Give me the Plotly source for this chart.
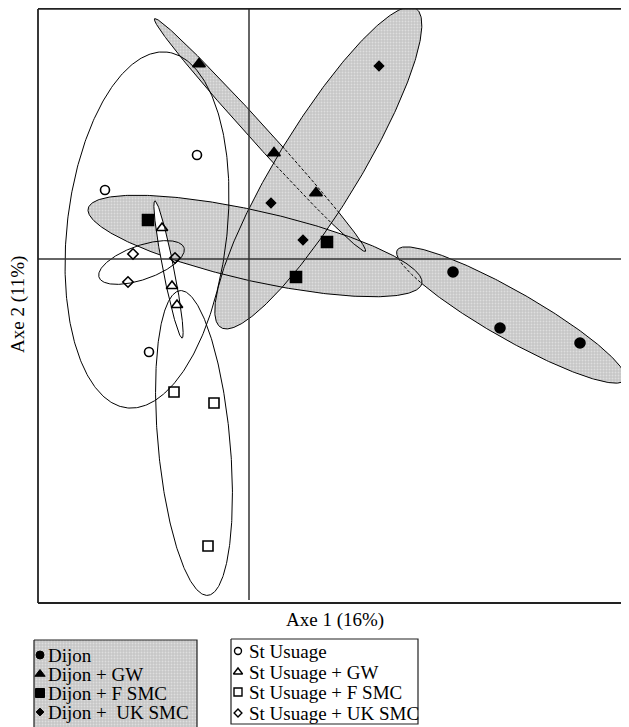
import numpy as np
import plotly.graph_objects as go

# ---------------- data (factorial map coordinates) ----------------
dijon_x = [2.04, 2.51, 3.31]
dijon_y = [-0.13, -0.69, -0.84]
dijon_gw_x = [-0.50, 0.25, 0.67]
dijon_gw_y = [1.95, 1.06, 0.66]
dijon_fsmc_x = [-1.01, 0.78, 0.47]
dijon_fsmc_y = [0.39, 0.17, -0.18]
dijon_uksmc_x = [1.30, 0.22, 0.54]
dijon_uksmc_y = [1.93, 0.56, 0.19]

stu_x = [-0.52, -1.44, -1.00]
stu_y = [1.04, 0.69, -0.93]
stu_gw_x = [-0.87, -0.77, -0.72]
stu_gw_y = [0.31, -0.27, -0.46]
stu_fsmc_x = [-0.75, -0.35, -0.41]
stu_fsmc_y = [-1.33, -1.44, -2.87]
stu_uksmc_x = [-1.16, -0.74, -1.21]
stu_uksmc_y = [0.05, 0.01, -0.23]

# confidence ellipses: centre x, centre y, semi-axis a, semi-axis b, angle (deg)
ell_dijon = [2.62, -0.56, 1.31, 0.24, -29.7]
ell_dijon_gw = [0.11, 1.24, 1.57, 0.09, -47.8]
ell_dijon_fsmc = [0.06, 0.13, 1.71, 0.35, -12.7]
ell_dijon_uksmc = [0.693, 0.911, 1.87, 0.41, 58.6]
ell_stu = [-1.02, 0.29, 1.79, 0.80, 83.6]
ell_stu_gw = [-0.805, -0.105, 0.70, 0.055, 101.2]
ell_stu_fsmc = [-0.55, -1.84, 1.53, 0.36, 95.2]
ell_stu_uksmc = [-1.075, -0.035, 0.45, 0.17, 19.3]

axis_x_title = "Axe 1 (16%)"
axis_y_title = "Axe 2 (11%)"
legend_dijon = ["Dijon", "Dijon + GW", "Dijon + F SMC", "Dijon +\u00a0 UK SMC"]
legend_stu = ["St Usuage", "St Usuage + GW", "St Usuage + F SMC", "St Usuage + UK SMC"]

# ---------------- helpers ----------------
OFF = 8                      # page body margin
W, H = 629 - OFF, 727 - OFF  # figure size
FONT = "Liberation Serif, Times New Roman, serif"
FS = 19
GRAY_PATTERN = dict(shape=".", bgcolor="#c6c6c6", fgcolor="#f6f6f6", size=3, solidity=0.3)


def ellipse(p, n=400):
    cx, cy, a, b, ang = p
    th = np.deg2rad(ang)
    t = np.linspace(0, 2 * np.pi, n)
    x = cx + a * np.cos(t) * np.cos(th) - b * np.sin(t) * np.sin(th)
    y = cy + a * np.cos(t) * np.sin(th) + b * np.sin(t) * np.cos(th)
    return x, y


def inside(p, x, y):
    cx, cy, a, b, ang = p
    th = np.deg2rad(ang)
    dx, dy = x - cx, y - cy
    u = dx * np.cos(th) + dy * np.sin(th)
    v = -dx * np.sin(th) + dy * np.cos(th)
    return (u / a) ** 2 + (v / b) ** 2 < 1


def split(x, y, mask):
    sx, sy, dx_, dy_ = [], [], [], []
    for i in range(len(x)):
        m = mask[i]
        prev = mask[i - 1] if i > 0 else m
        if m:
            if not prev:
                dx_ += [None]; dy_ += [None]
                dx_.append(x[i - 1]); dy_.append(y[i - 1])
            dx_.append(x[i]); dy_.append(y[i])
            sx.append(None); sy.append(None)
        else:
            if prev and i > 0:
                sx.append(x[i - 1]); sy.append(y[i - 1])
            sx.append(x[i]); sy.append(y[i])
    return sx, sy, dx_, dy_


fig = go.Figure()

gray_ells = [ell_dijon_uksmc, ell_dijon_fsmc, ell_dijon_gw, ell_dijon]
for p in gray_ells:
    x, y = ellipse(p)
    fig.add_trace(go.Scatter(x=x, y=y, mode="lines", fill="toself",
                             fillcolor="#d2d2d2", fillpattern=GRAY_PATTERN,
                             line=dict(width=0, color="rgba(0,0,0,0)"),
                             hoverinfo="skip", showlegend=False))
dash_rules = {id(ell_dijon_gw): ell_dijon_uksmc, id(ell_dijon): ell_dijon_fsmc}
for p in gray_ells:
    x, y = ellipse(p)
    other = dash_rules.get(id(p))
    if other is None:
        fig.add_trace(go.Scatter(x=x, y=y, mode="lines", line=dict(width=1, color="black"),
                                 hoverinfo="skip", showlegend=False))
    else:
        m = inside(other, x, y)
        sx, sy, ddx, ddy = split(list(x), list(y), list(m))
        fig.add_trace(go.Scatter(x=sx, y=sy, mode="lines", line=dict(width=1, color="black"),
                                 hoverinfo="skip", showlegend=False))
        fig.add_trace(go.Scatter(x=ddx, y=ddy, mode="lines",
                                 line=dict(width=1, color="black", dash="3px,2px"),
                                 hoverinfo="skip", showlegend=False))

for p, filled in [(ell_stu, False), (ell_stu_gw, True), (ell_stu_fsmc, False), (ell_stu_uksmc, False)]:
    x, y = ellipse(p)
    fig.add_trace(go.Scatter(x=x, y=y, mode="lines", line=dict(width=1, color="black"),
                             fill="toself" if filled else None,
                             fillcolor="white" if filled else None,
                             hoverinfo="skip", showlegend=False))

XR = [-2.11, 3.80]
YR = [-3.44, 2.51]
fig.add_trace(go.Scatter(x=[0, 0], y=[YR[0] + 0.03, YR[1] + 0.1], mode="lines",
                         line=dict(width=1.5, color="#333"), hoverinfo="skip", showlegend=False))
fig.add_trace(go.Scatter(x=[XR[0] - 0.03, XR[1]], y=[0, 0], mode="lines",
                         line=dict(width=1.5, color="#333"), hoverinfo="skip", showlegend=False))

series = [
    (dijon_x, dijon_y, "circle", 10),
    (dijon_gw_x, dijon_gw_y, "triangle-up", 11),
    (dijon_fsmc_x, dijon_fsmc_y, "square", 11),
    (dijon_uksmc_x, dijon_uksmc_y, "diamond", 7),
    (stu_x, stu_y, "circle-open", 9),
    (stu_gw_x, stu_gw_y, "triangle-up-open", 10),
    (stu_fsmc_x, stu_fsmc_y, "square-open", 10),
    (stu_uksmc_x, stu_uksmc_y, "diamond-open", 8),
]
for xs, ys, sym, sz in series:
    fig.add_trace(go.Scatter(x=xs, y=ys, mode="markers",
                             marker=dict(symbol=sym, size=sz, color="black",
                                         line=dict(width=1.6, color="black")),
                             showlegend=False))

# ---------------- legend panel on overlay axes (window pixel coords) ----------------
TOP_PLOT = 603
fig.add_trace(go.Scatter(x=[34, 197, 197, 34, 34], y=[640, 640, 745, 745, 640],
                         xaxis="x2", yaxis="y2", mode="lines", fill="toself",
                         fillcolor="#d2d2d2", fillpattern=GRAY_PATTERN,
                         line=dict(width=1.2, color="#222"), hoverinfo="skip", showlegend=False))
fig.add_trace(go.Scatter(x=[231, 418, 418, 231, 231], y=[639, 639, 724, 724, 639],
                         xaxis="x2", yaxis="y2", mode="lines",
                         line=dict(width=1.2, color="#222"), hoverinfo="skip", showlegend=False))

left_rows = [655, 674, 693, 712]
right_rows = [651, 672, 692, 713]
for i, (xs, ys, sym, sz) in enumerate(series[:4]):
    fig.add_trace(go.Scatter(x=[40], y=[left_rows[i]], xaxis="x2", yaxis="y2", mode="markers",
                             marker=dict(symbol=sym, size=max(sz - 2, 6), color="black",
                                         line=dict(width=1, color="black")),
                             showlegend=False, hoverinfo="skip"))
for i, (xs, ys, sym, sz) in enumerate(series[4:]):
    fig.add_trace(go.Scatter(x=[238], y=[right_rows[i]], xaxis="x2", yaxis="y2", mode="markers",
                             marker=dict(symbol=sym, size=max(sz - 2, 6), color="black",
                                         line=dict(width=1.4, color="black")),
                             showlegend=False, hoverinfo="skip"))

annotations = []
for i, t in enumerate(legend_dijon):
    annotations.append(dict(x=46, y=left_rows[i], xref="x2", yref="y2", text=t, showarrow=False,
                            xanchor="left", yanchor="middle",
                            font=dict(family=FONT, size=FS, color="black")))
for i, t in enumerate(legend_stu):
    annotations.append(dict(x=247, y=right_rows[i], xref="x2", yref="y2", text=t, showarrow=False,
                            xanchor="left", yanchor="middle",
                            font=dict(family=FONT, size=FS, color="black")))
annotations.append(dict(x=335, y=620, xref="x2", yref="y2", text=axis_x_title, showarrow=False,
                        xanchor="center", yanchor="middle",
                        font=dict(family=FONT, size=FS, color="black")))
annotations.append(dict(x=(18 - OFF) / W, y=1 - (305 - OFF) / H, xref="paper", yref="paper",
                        text=axis_y_title, showarrow=False, textangle=-90,
                        xanchor="center", yanchor="middle",
                        font=dict(family=FONT, size=FS, color="black")))

px0 = (38 - OFF) / W
py_top = 1 - 0.9 / H
py_bot = 1 - (603 - OFF) / H
shapes = [
    dict(type="line", xref="paper", yref="paper", x0=px0, x1=px0, y0=py_bot, y1=py_top,
         line=dict(width=1.8, color="#222")),
    dict(type="line", xref="paper", yref="paper", x0=px0, x1=1.0, y0=py_top, y1=py_top,
         line=dict(width=1.8, color="#222")),
    dict(type="line", xref="paper", yref="paper", x0=px0, x1=1.0, y0=py_bot, y1=py_bot,
         line=dict(width=1.8, color="#222")),
]

fig.update_layout(
    width=W, height=H,
    margin=dict(l=0, r=0, t=0, b=0),
    paper_bgcolor="white", plot_bgcolor="white",
    xaxis=dict(domain=[px0, 1.0], range=XR, showgrid=False, zeroline=False,
               showticklabels=False, ticks="", showline=False, fixedrange=True),
    yaxis=dict(domain=[py_bot, 1.0], range=YR, showgrid=False, zeroline=False,
               showticklabels=False, ticks="", showline=False, fixedrange=True),
    xaxis2=dict(domain=[0, 1], range=[OFF, 629], visible=False, anchor="y2", fixedrange=True),
    yaxis2=dict(domain=[0, py_bot], range=[727, TOP_PLOT], visible=False, anchor="x2",
                fixedrange=True),
    annotations=annotations,
    shapes=shapes,
    showlegend=False,
    font=dict(family=FONT),
)

fig.write_html("out.html")
